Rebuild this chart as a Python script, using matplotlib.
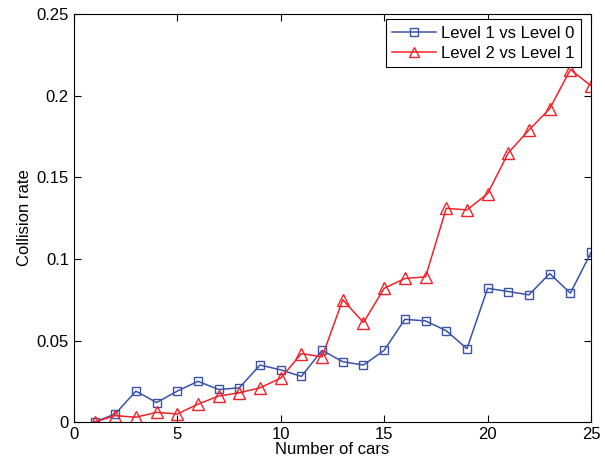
import matplotlib
matplotlib.use('Agg')
import matplotlib.pyplot as plt

plt.rcParams['font.family'] = ['Liberation Sans', 'DejaVu Sans']

cars = list(range(1, 26))

# Level 1 vs Level 0
level1_vs_0 = [0.0, 0.005, 0.019, 0.012, 0.019, 0.025, 0.020, 0.021, 0.035, 0.032,
               0.028, 0.044, 0.037, 0.035, 0.044, 0.063, 0.062, 0.056, 0.045, 0.082,
               0.080, 0.078, 0.091, 0.079, 0.104]

# Level 2 vs Level 1
level2_vs_1 = [0.0, 0.004, 0.003, 0.006, 0.005, 0.011, 0.016, 0.018, 0.021, 0.027,
               0.042, 0.040, 0.075, 0.061, 0.082, 0.088, 0.089, 0.131, 0.130, 0.140,
               0.165, 0.179, 0.192, 0.216, 0.206]

fig = plt.figure(figsize=(6.05, 4.68), dpi=100)
ax = fig.add_axes([0.122, 0.098, 0.855, 0.872])

ax.plot(cars, level1_vs_0, color='#3a52a8', marker='s', markersize=6,
        markerfacecolor='none', linewidth=1.1, label='Level 1 vs Level 0')
ax.plot(cars, level2_vs_1, color='#f2222a', marker='^', markersize=8,
        markerfacecolor='none', linewidth=1.1, label='Level 2 vs Level 1')

ax.set_xlim(0, 25)
ax.set_ylim(0, 0.25)
ax.set_xticks([0, 5, 10, 15, 20, 25])
ax.set_yticks([0, 0.05, 0.1, 0.15, 0.2, 0.25])
ax.set_yticklabels(['0', '0.05', '0.1', '0.15', '0.2', '0.25'])
ax.tick_params(direction='in', top=True, right=True, labelsize=12, length=5)
ax.set_xlabel('Number of cars', fontsize=12, labelpad=0)
ax.set_ylabel('Collision rate', fontsize=12, labelpad=3)

leg = ax.legend(loc='upper right', fontsize=12, fancybox=False, framealpha=1,
                edgecolor='black', borderaxespad=0.3, handlelength=2.6,
                handletextpad=0.3, borderpad=0.4, labelspacing=0.3,
                markerscale=0.85, bbox_to_anchor=(0.99, 1.0))
leg.get_frame().set_linewidth(0.8)

fig.savefig('out.png', dpi=100)
